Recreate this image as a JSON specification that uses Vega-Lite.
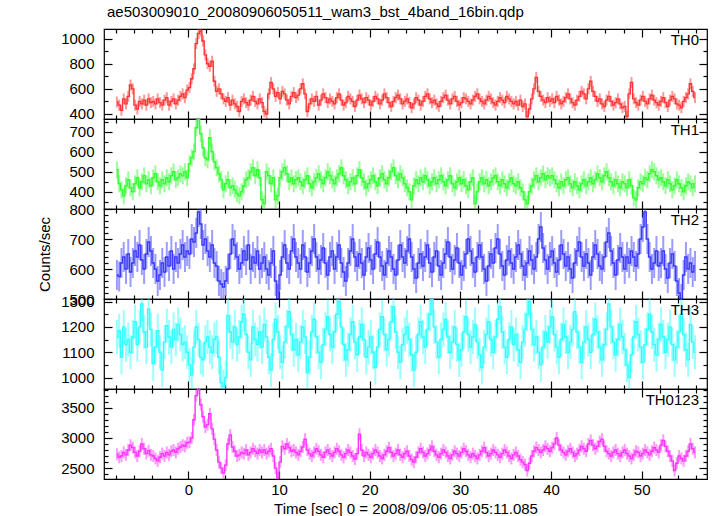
{
"$schema":"https://vega.github.io/schema/vega-lite/v6.json",
"padding":{"left":37,"top":4,"right":0,"bottom":0},
"spacing":0,
"bounds":"flush",
"title":{"text":"ae503009010_20080906050511_wam3_bst_4band_16bin.qdp","anchor":"start","frame":"group","offset":8,"dx":3},
"data":{"values":[
{"t":-7.875,"a":495,"b":510,"c":580,"d":1160,"s":2730},
{"t":-7.625,"a":470,"b":440,"c":575,"d":1185,"s":2680},
{"t":-7.375,"a":430,"b":410,"c":620,"d":1080,"s":2700},
{"t":-7.125,"a":520,"b":380,"c":640,"d":1200,"s":2760},
{"t":-6.875,"a":480,"b":430,"c":600,"d":1130,"s":2720},
{"t":-6.625,"a":540,"b":460,"c":650,"d":1150,"s":2800},
{"t":-6.375,"a":630,"b":420,"c":590,"d":1100,"s":2880},
{"t":-6.125,"a":600,"b":400,"c":620,"d":1160,"s":2840},
{"t":-5.875,"a":470,"b":440,"c":660,"d":1220,"s":2760},
{"t":-5.625,"a":440,"b":470,"c":640,"d":1130,"s":2700},
{"t":-5.375,"a":500,"b":420,"c":680,"d":1200,"s":2780},
{"t":-5.125,"a":480,"b":450,"c":630,"d":1290,"s":2900},
{"t":-4.875,"a":510,"b":480,"c":600,"d":1180,"s":2820},
{"t":-4.625,"a":470,"b":440,"c":650,"d":1120,"s":2740},
{"t":-4.375,"a":520,"b":460,"c":690,"d":1270,"s":2790},
{"t":-4.125,"a":490,"b":430,"c":660,"d":1190,"s":2720},
{"t":-3.875,"a":500,"b":470,"c":620,"d":1055,"s":2700},
{"t":-3.625,"a":480,"b":490,"c":600,"d":1120,"s":2660},
{"t":-3.375,"a":520,"b":450,"c":560,"d":1185,"s":2620},
{"t":-3.125,"a":490,"b":430,"c":580,"d":1100,"s":2680},
{"t":-2.875,"a":470,"b":460,"c":620,"d":1030,"s":2740},
{"t":-2.625,"a":510,"b":440,"c":590,"d":1140,"s":2700},
{"t":-2.375,"a":530,"b":470,"c":640,"d":1205,"s":2760},
{"t":-2.125,"a":470,"b":450,"c":610,"d":1160,"s":2720},
{"t":-1.875,"a":500,"b":480,"c":660,"d":1120,"s":2780},
{"t":-1.625,"a":520,"b":500,"c":600,"d":1190,"s":2800},
{"t":-1.375,"a":480,"b":460,"c":640,"d":1150,"s":2760},
{"t":-1.125,"a":510,"b":470,"c":620,"d":1210,"s":2820},
{"t":-0.875,"a":540,"b":490,"c":650,"d":1170,"s":2850},
{"t":-0.625,"a":560,"b":480,"c":680,"d":1130,"s":2880},
{"t":-0.375,"a":530,"b":500,"c":640,"d":1140,"s":2860},
{"t":-0.125,"a":590,"b":470,"c":660,"d":1100,"s":2920},
{"t":0.125,"a":610,"b":540,"c":650,"d":1050,"s":2930},
{"t":0.375,"a":680,"b":570,"c":700,"d":1010,"s":3000},
{"t":0.625,"a":760,"b":600,"c":690,"d":1120,"s":3300},
{"t":0.875,"a":960,"b":720,"c":720,"d":1200,"s":3700},
{"t":1.125,"a":1040,"b":760,"c":790,"d":1150,"s":3820},
{"t":1.375,"a":1060,"b":690,"c":750,"d":1080,"s":3550},
{"t":1.625,"a":980,"b":620,"c":680,"d":1070,"s":3350},
{"t":1.875,"a":870,"b":570,"c":700,"d":1140,"s":3180},
{"t":2.125,"a":800,"b":560,"c":660,"d":1160,"s":3220},
{"t":2.375,"a":780,"b":670,"c":640,"d":1120,"s":3400},
{"t":2.625,"a":820,"b":600,"c":680,"d":1100,"s":3150},
{"t":2.875,"a":660,"b":550,"c":620,"d":1150,"s":2980},
{"t":3.125,"a":580,"b":520,"c":610,"d":1160,"s":2800},
{"t":3.375,"a":600,"b":490,"c":560,"d":1080,"s":2600},
{"t":3.625,"a":560,"b":460,"c":550,"d":980,"s":2500},
{"t":3.875,"a":520,"b":410,"c":540,"d":965,"s":2420},
{"t":4.125,"a":500,"b":440,"c":560,"d":1000,"s":2550},
{"t":4.375,"a":530,"b":460,"c":600,"d":1245,"s":2900},
{"t":4.625,"a":470,"b":420,"c":650,"d":1180,"s":3050},
{"t":4.875,"a":510,"b":430,"c":700,"d":1140,"s":2850},
{"t":5.125,"a":480,"b":410,"c":680,"d":1200,"s":2780},
{"t":5.375,"a":460,"b":390,"c":640,"d":1130,"s":2700},
{"t":5.625,"a":420,"b":380,"c":600,"d":1160,"s":2720},
{"t":5.875,"a":500,"b":400,"c":620,"d":1220,"s":2760},
{"t":6.125,"a":520,"b":430,"c":660,"d":1250,"s":2740},
{"t":6.375,"a":490,"b":460,"c":630,"d":1170,"s":2800},
{"t":6.625,"a":470,"b":470,"c":680,"d":1100,"s":2720},
{"t":6.875,"a":510,"b":500,"c":600,"d":1070,"s":2760},
{"t":7.125,"a":540,"b":520,"c":640,"d":1200,"s":2820},
{"t":7.375,"a":500,"b":480,"c":620,"d":1150,"s":2780},
{"t":7.625,"a":480,"b":510,"c":660,"d":1130,"s":2740},
{"t":7.875,"a":520,"b":470,"c":600,"d":1180,"s":2800},
{"t":8.125,"a":490,"b":360,"c":620,"d":1120,"s":2760},
{"t":8.375,"a":420,"b":340,"c":640,"d":1210,"s":2800},
{"t":8.625,"a":400,"b":500,"c":600,"d":1160,"s":2740},
{"t":8.875,"a":560,"b":480,"c":580,"d":1080,"s":2780},
{"t":9.125,"a":650,"b":440,"c":620,"d":1030,"s":2820},
{"t":9.375,"a":600,"b":470,"c":660,"d":1150,"s":2700},
{"t":9.625,"a":540,"b":360,"c":560,"d":1230,"s":2500},
{"t":9.875,"a":570,"b":380,"c":500,"d":1180,"s":2340},
{"t":10.125,"a":520,"b":470,"c":580,"d":1100,"s":2600},
{"t":10.375,"a":580,"b":500,"c":640,"d":1060,"s":2860},
{"t":10.625,"a":560,"b":520,"c":680,"d":1140,"s":2820},
{"t":10.875,"a":510,"b":490,"c":620,"d":1200,"s":2900},
{"t":11.125,"a":480,"b":450,"c":600,"d":1260,"s":2840},
{"t":11.375,"a":540,"b":470,"c":660,"d":1170,"s":2780},
{"t":11.625,"a":570,"b":440,"c":700,"d":1110,"s":2800},
{"t":11.875,"a":530,"b":460,"c":640,"d":1150,"s":2760},
{"t":12.125,"a":550,"b":470,"c":620,"d":1090,"s":2720},
{"t":12.375,"a":600,"b":450,"c":600,"d":1140,"s":2780},
{"t":12.625,"a":640,"b":430,"c":680,"d":1200,"s":2850},
{"t":12.875,"a":560,"b":460,"c":640,"d":1160,"s":2980},
{"t":13.125,"a":420,"b":480,"c":590,"d":1020,"s":2800},
{"t":13.375,"a":480,"b":440,"c":620,"d":1080,"s":2740},
{"t":13.625,"a":520,"b":420,"c":660,"d":1180,"s":2700},
{"t":13.875,"a":500,"b":450,"c":700,"d":1230,"s":2760},
{"t":14.125,"a":540,"b":470,"c":640,"d":1160,"s":2820},
{"t":14.375,"a":470,"b":490,"c":600,"d":1100,"s":2780},
{"t":14.625,"a":510,"b":460,"c":630,"d":1060,"s":2720},
{"t":14.875,"a":560,"b":440,"c":670,"d":1130,"s":2680},
{"t":15.125,"a":530,"b":470,"c":620,"d":1190,"s":2760},
{"t":15.375,"a":490,"b":500,"c":580,"d":1240,"s":2800},
{"t":15.625,"a":520,"b":480,"c":640,"d":1170,"s":2740},
{"t":15.875,"a":500,"b":460,"c":660,"d":1120,"s":2700},
{"t":16.125,"a":480,"b":440,"c":600,"d":1180,"s":2760},
{"t":16.375,"a":530,"b":470,"c":640,"d":1250,"s":2820},
{"t":16.625,"a":560,"b":490,"c":680,"d":1300,"s":2780},
{"t":16.875,"a":510,"b":520,"c":620,"d":1200,"s":2720},
{"t":17.125,"a":470,"b":480,"c":590,"d":1130,"s":2680},
{"t":17.375,"a":490,"b":460,"c":560,"d":1070,"s":2740},
{"t":17.625,"a":540,"b":430,"c":620,"d":1110,"s":2800},
{"t":17.875,"a":520,"b":450,"c":660,"d":1170,"s":2760},
{"t":18.125,"a":500,"b":470,"c":700,"d":1220,"s":2700},
{"t":18.375,"a":460,"b":440,"c":640,"d":1140,"s":2650},
{"t":18.625,"a":510,"b":480,"c":610,"d":1090,"s":2740},
{"t":18.875,"a":550,"b":510,"c":650,"d":1160,"s":3060},
{"t":19.125,"a":520,"b":470,"c":620,"d":1210,"s":2800},
{"t":19.375,"a":490,"b":450,"c":580,"d":1150,"s":2700},
{"t":19.625,"a":530,"b":420,"c":640,"d":1080,"s":2760},
{"t":19.875,"a":510,"b":440,"c":670,"d":1120,"s":2720},
{"t":20.125,"a":470,"b":460,"c":630,"d":1160,"s":2680},
{"t":20.375,"a":500,"b":480,"c":600,"d":1100,"s":2740},
{"t":20.625,"a":540,"b":450,"c":650,"d":1040,"s":2800},
{"t":20.875,"a":520,"b":430,"c":690,"d":1120,"s":2760},
{"t":21.125,"a":480,"b":470,"c":640,"d":1190,"s":2700},
{"t":21.375,"a":510,"b":490,"c":610,"d":1240,"s":2660},
{"t":21.625,"a":560,"b":460,"c":580,"d":1170,"s":2720},
{"t":21.875,"a":530,"b":440,"c":620,"d":1110,"s":2780},
{"t":22.125,"a":490,"b":470,"c":660,"d":1150,"s":2840},
{"t":22.375,"a":460,"b":500,"c":640,"d":1220,"s":2760},
{"t":22.625,"a":500,"b":520,"c":600,"d":1280,"s":2700},
{"t":22.875,"a":530,"b":480,"c":580,"d":1180,"s":2740},
{"t":23.125,"a":550,"b":460,"c":630,"d":1100,"s":2800},
{"t":23.375,"a":520,"b":490,"c":680,"d":1060,"s":2720},
{"t":23.625,"a":480,"b":470,"c":640,"d":1130,"s":2680},
{"t":23.875,"a":500,"b":440,"c":620,"d":1170,"s":2740},
{"t":24.125,"a":520,"b":420,"c":660,"d":1200,"s":2780},
{"t":24.375,"a":490,"b":400,"c":700,"d":1150,"s":2700},
{"t":24.625,"a":450,"b":360,"c":640,"d":1090,"s":2640},
{"t":24.875,"a":480,"b":430,"c":600,"d":1030,"s":2600},
{"t":25.125,"a":530,"b":460,"c":570,"d":1100,"s":2680},
{"t":25.375,"a":510,"b":440,"c":620,"d":1170,"s":2760},
{"t":25.625,"a":470,"b":470,"c":650,"d":1220,"s":2820},
{"t":25.875,"a":500,"b":450,"c":610,"d":1160,"s":2760},
{"t":26.125,"a":540,"b":480,"c":640,"d":1120,"s":2700},
{"t":26.375,"a":560,"b":460,"c":680,"d":1190,"s":2740},
{"t":26.625,"a":520,"b":430,"c":620,"d":1250,"s":2800},
{"t":26.875,"a":490,"b":450,"c":590,"d":1310,"s":2860},
{"t":27.125,"a":510,"b":470,"c":640,"d":1200,"s":2780},
{"t":27.375,"a":480,"b":440,"c":660,"d":1140,"s":2720},
{"t":27.625,"a":460,"b":460,"c":610,"d":1080,"s":2680},
{"t":27.875,"a":500,"b":480,"c":580,"d":1150,"s":2740},
{"t":28.125,"a":530,"b":450,"c":620,"d":1190,"s":2800},
{"t":28.375,"a":550,"b":430,"c":650,"d":1230,"s":2760},
{"t":28.625,"a":510,"b":460,"c":690,"d":1160,"s":2700},
{"t":28.875,"a":480,"b":480,"c":640,"d":1100,"s":2660},
{"t":29.125,"a":520,"b":440,"c":600,"d":1140,"s":2720},
{"t":29.375,"a":540,"b":420,"c":630,"d":1200,"s":2780},
{"t":29.625,"a":500,"b":450,"c":670,"d":1130,"s":2740},
{"t":29.875,"a":470,"b":470,"c":620,"d":1070,"s":2700},
{"t":30.125,"a":490,"b":440,"c":580,"d":1110,"s":2760},
{"t":30.375,"a":530,"b":460,"c":610,"d":1180,"s":2820},
{"t":30.625,"a":520,"b":430,"c":650,"d":1240,"s":2780},
{"t":30.875,"a":500,"b":410,"c":700,"d":1170,"s":2720},
{"t":31.125,"a":480,"b":450,"c":660,"d":1120,"s":2680},
{"t":31.375,"a":510,"b":470,"c":620,"d":1160,"s":2740},
{"t":31.625,"a":540,"b":340,"c":590,"d":1210,"s":2700},
{"t":31.875,"a":560,"b":400,"c":640,"d":1140,"s":2660},
{"t":32.125,"a":520,"b":450,"c":680,"d":1090,"s":2720},
{"t":32.375,"a":500,"b":470,"c":640,"d":1040,"s":2780},
{"t":32.625,"a":480,"b":440,"c":600,"d":1120,"s":2840},
{"t":32.875,"a":510,"b":460,"c":560,"d":1170,"s":2760},
{"t":33.125,"a":540,"b":430,"c":610,"d":1220,"s":2700},
{"t":33.375,"a":520,"b":450,"c":650,"d":1150,"s":2740},
{"t":33.625,"a":490,"b":470,"c":620,"d":1100,"s":2800},
{"t":33.875,"a":470,"b":480,"c":670,"d":1160,"s":2760},
{"t":34.125,"a":500,"b":450,"c":700,"d":1230,"s":2720},
{"t":34.375,"a":530,"b":430,"c":650,"d":1280,"s":2680},
{"t":34.625,"a":510,"b":460,"c":610,"d":1180,"s":2740},
{"t":34.875,"a":490,"b":440,"c":580,"d":1120,"s":2800},
{"t":35.125,"a":540,"b":420,"c":630,"d":1080,"s":2760},
{"t":35.375,"a":520,"b":450,"c":660,"d":1150,"s":2700},
{"t":35.625,"a":500,"b":470,"c":620,"d":1200,"s":2660},
{"t":35.875,"a":480,"b":440,"c":600,"d":1130,"s":2720},
{"t":36.125,"a":500,"b":430,"c":640,"d":1170,"s":2760},
{"t":36.375,"a":470,"b":450,"c":680,"d":1110,"s":2700},
{"t":36.625,"a":510,"b":420,"c":650,"d":1060,"s":2640},
{"t":36.875,"a":460,"b":400,"c":610,"d":1140,"s":2600},
{"t":37.125,"a":480,"b":360,"c":580,"d":1190,"s":2560},
{"t":37.375,"a":380,"b":340,"c":620,"d":1250,"s":2460},
{"t":37.625,"a":440,"b":400,"c":660,"d":1300,"s":2580},
{"t":37.875,"a":520,"b":430,"c":630,"d":1190,"s":2700},
{"t":38.125,"a":600,"b":460,"c":600,"d":1130,"s":2780},
{"t":38.375,"a":690,"b":480,"c":640,"d":1160,"s":2840},
{"t":38.625,"a":580,"b":450,"c":700,"d":1100,"s":2800},
{"t":38.875,"a":540,"b":470,"c":740,"d":1050,"s":2760},
{"t":39.125,"a":510,"b":490,"c":670,"d":1120,"s":2800},
{"t":39.375,"a":490,"b":460,"c":630,"d":1180,"s":2860},
{"t":39.625,"a":530,"b":480,"c":600,"d":1140,"s":2820},
{"t":39.875,"a":500,"b":470,"c":640,"d":1200,"s":2780},
{"t":40.125,"a":520,"b":480,"c":660,"d":1240,"s":2840},
{"t":40.375,"a":490,"b":460,"c":620,"d":1170,"s":2900},
{"t":40.625,"a":540,"b":440,"c":590,"d":1120,"s":3000},
{"t":40.875,"a":510,"b":420,"c":630,"d":1080,"s":2880},
{"t":41.125,"a":480,"b":450,"c":680,"d":1150,"s":2800},
{"t":41.375,"a":500,"b":430,"c":650,"d":1210,"s":2760},
{"t":41.625,"a":530,"b":460,"c":610,"d":1160,"s":2720},
{"t":41.875,"a":560,"b":470,"c":640,"d":1100,"s":2780},
{"t":42.125,"a":520,"b":440,"c":600,"d":1140,"s":2820},
{"t":42.375,"a":490,"b":420,"c":570,"d":1190,"s":2760},
{"t":42.625,"a":470,"b":450,"c":620,"d":1260,"s":2700},
{"t":42.875,"a":510,"b":430,"c":660,"d":1180,"s":2740},
{"t":43.125,"a":540,"b":410,"c":690,"d":1120,"s":2800},
{"t":43.375,"a":580,"b":440,"c":640,"d":1060,"s":2860},
{"t":43.625,"a":560,"b":460,"c":610,"d":1140,"s":2820},
{"t":43.875,"a":520,"b":430,"c":650,"d":1200,"s":2780},
{"t":44.125,"a":600,"b":450,"c":620,"d":1150,"s":2900},
{"t":44.375,"a":660,"b":470,"c":580,"d":1100,"s":2960},
{"t":44.625,"a":580,"b":440,"c":640,"d":1170,"s":2880},
{"t":44.875,"a":540,"b":460,"c":680,"d":1230,"s":2820},
{"t":45.125,"a":500,"b":490,"c":650,"d":1180,"s":2860},
{"t":45.375,"a":520,"b":470,"c":610,"d":1120,"s":2940},
{"t":45.625,"a":480,"b":450,"c":600,"d":1070,"s":2980},
{"t":45.875,"a":460,"b":480,"c":640,"d":1130,"s":2860},
{"t":46.125,"a":510,"b":500,"c":690,"d":1190,"s":2780},
{"t":46.375,"a":540,"b":470,"c":720,"d":1290,"s":2740},
{"t":46.625,"a":500,"b":450,"c":660,"d":1200,"s":2700},
{"t":46.875,"a":470,"b":430,"c":620,"d":1140,"s":2760},
{"t":47.125,"a":490,"b":460,"c":580,"d":1090,"s":2800},
{"t":47.375,"a":520,"b":440,"c":630,"d":1150,"s":2740},
{"t":47.625,"a":480,"b":420,"c":670,"d":1210,"s":2700},
{"t":47.875,"a":450,"b":450,"c":640,"d":1160,"s":2760},
{"t":48.125,"a":460,"b":440,"c":600,"d":1110,"s":2800},
{"t":48.375,"a":380,"b":420,"c":640,"d":1050,"s":2740},
{"t":48.625,"a":560,"b":460,"c":620,"d":1000,"s":2700},
{"t":48.875,"a":650,"b":430,"c":660,"d":1090,"s":2660},
{"t":49.125,"a":520,"b":370,"c":640,"d":1160,"s":2720},
{"t":49.375,"a":490,"b":360,"c":610,"d":1220,"s":2780},
{"t":49.625,"a":470,"b":420,"c":650,"d":1170,"s":2760},
{"t":49.875,"a":510,"b":450,"c":700,"d":1120,"s":2700},
{"t":50.125,"a":540,"b":440,"c":740,"d":1060,"s":2740},
{"t":50.375,"a":500,"b":470,"c":790,"d":1130,"s":2800},
{"t":50.625,"a":480,"b":460,"c":700,"d":1190,"s":2760},
{"t":50.875,"a":520,"b":490,"c":640,"d":1250,"s":2720},
{"t":51.125,"a":550,"b":510,"c":600,"d":1180,"s":2780},
{"t":51.375,"a":510,"b":500,"c":620,"d":1130,"s":2840},
{"t":51.625,"a":490,"b":480,"c":660,"d":1090,"s":2800},
{"t":51.875,"a":470,"b":460,"c":610,"d":1150,"s":2760},
{"t":52.125,"a":500,"b":470,"c":620,"d":1210,"s":2880},
{"t":52.375,"a":530,"b":450,"c":660,"d":1160,"s":2960},
{"t":52.625,"a":490,"b":430,"c":600,"d":1100,"s":2860},
{"t":52.875,"a":460,"b":460,"c":570,"d":1150,"s":2780},
{"t":53.125,"a":510,"b":440,"c":620,"d":1200,"s":2700},
{"t":53.375,"a":540,"b":410,"c":650,"d":1130,"s":2620},
{"t":53.625,"a":520,"b":430,"c":610,"d":1070,"s":2460},
{"t":53.875,"a":480,"b":460,"c":560,"d":1120,"s":2580},
{"t":54.125,"a":470,"b":440,"c":520,"d":1180,"s":2700},
{"t":54.375,"a":450,"b":420,"c":500,"d":1250,"s":2660},
{"t":54.625,"a":500,"b":400,"c":580,"d":1170,"s":2620},
{"t":54.875,"a":530,"b":430,"c":640,"d":1110,"s":2700},
{"t":55.125,"a":560,"b":450,"c":600,"d":1070,"s":2780},
{"t":55.375,"a":640,"b":440,"c":620,"d":1210,"s":2900},
{"t":55.625,"a":580,"b":420,"c":590,"d":1140,"s":2820},
{"t":55.875,"a":530,"b":440,"c":610,"d":1100,"s":2760}
]},
"vconcat":[
{"width":603,"height":90,
 "layer":[
  {"mark":{"type":"tick","orient":"vertical","size":11,"thickness":2,"color":"#ff3333","opacity":0.5,"clip":true},
   "encoding":{
    "x":{"field":"t","type":"quantitative","scale":{"domain":[-9.3,57.2],"nice":false,"zero":false},"axis":{"orient":"bottom","values":[0,10,20,30,40,50],"tickSize":-8,"labels":false,"title":null}},
    "y":{"field":"a","type":"quantitative","scale":{"domain":[360,1076],"nice":false,"zero":false},"axis":{"orient":"left","values":[400,600,800,1000],"format":"d","tickSize":-8,"labelPadding":18,"title":null}}}},
  {"mark":{"type":"line","interpolate":"step","color":"#ff3333","strokeWidth":1.4,"clip":true},
   "encoding":{
    "x":{"field":"t","type":"quantitative","axis":{"orient":"top","values":[0,10,20,30,40,50],"tickSize":-8,"labels":false,"title":null}},
    "y":{"field":"a","type":"quantitative","axis":{"orient":"right","values":[400,600,800,1000],"tickSize":-8,"labels":false,"title":null}}}},
  {"data":{"values":[{"label":"TH0"}]},
   "mark":{"type":"text","align":"right","baseline":"top","dx":-8,"dy":4,"fontSize":15,"color":"#000"},
   "encoding":{
    "x":{"datum":57.2,"type":"quantitative","axis":{"orient":"bottom","values":[-8,-6,-4,-2,2,4,6,8,12,14,16,18,22,24,26,28,32,34,36,38,42,44,46,48,52,54,56],"tickSize":-4,"labels":false,"title":null}},
    "y":{"datum":1076,"type":"quantitative","axis":{"orient":"left","values":[500,700,900],"tickSize":-4,"labels":false,"title":null}},
    "text":{"field":"label"}}},
  {"mark":{"type":"point","opacity":0},
   "encoding":{
    "x":{"field":"t","type":"quantitative","axis":{"orient":"top","values":[-8,-6,-4,-2,2,4,6,8,12,14,16,18,22,24,26,28,32,34,36,38,42,44,46,48,52,54,56],"tickSize":-4,"labels":false,"title":null}},
    "y":{"field":"a","type":"quantitative","axis":{"orient":"right","values":[500,700,900],"tickSize":-4,"labels":false,"title":null}}}}
 ],
 "resolve":{"axis":{"x":"independent","y":"independent"}}
},
{"width":603,"height":90,
 "layer":[
  {"mark":{"type":"tick","orient":"vertical","size":17,"thickness":2,"color":"#33ff33","opacity":0.5,"clip":true},
   "encoding":{
    "x":{"field":"t","type":"quantitative","scale":{"domain":[-9.3,57.2],"nice":false,"zero":false},"axis":{"orient":"bottom","values":[0,10,20,30,40,50],"tickSize":-8,"labels":false,"title":null}},
    "y":{"field":"b","type":"quantitative","scale":{"domain":[314,764],"nice":false,"zero":false},"axis":{"orient":"left","values":[400,500,600,700],"format":"d","tickSize":-8,"labelPadding":18,"title":null}}}},
  {"mark":{"type":"line","interpolate":"step","color":"#33ff33","strokeWidth":1.4,"clip":true},
   "encoding":{
    "x":{"field":"t","type":"quantitative","axis":{"orient":"top","values":[0,10,20,30,40,50],"tickSize":-8,"labels":false,"title":null}},
    "y":{"field":"b","type":"quantitative","axis":{"orient":"right","values":[400,500,600,700],"tickSize":-8,"labels":false,"title":null}}}},
  {"data":{"values":[{"label":"TH1"}]},
   "mark":{"type":"text","align":"right","baseline":"top","dx":-8,"dy":4,"fontSize":15,"color":"#000"},
   "encoding":{
    "x":{"datum":57.2,"type":"quantitative","axis":{"orient":"bottom","values":[-8,-6,-4,-2,2,4,6,8,12,14,16,18,22,24,26,28,32,34,36,38,42,44,46,48,52,54,56],"tickSize":-4,"labels":false,"title":null}},
    "y":{"datum":764,"type":"quantitative","axis":{"orient":"left","values":[350,450,550,650,750],"tickSize":-4,"labels":false,"title":null}},
    "text":{"field":"label"}}},
  {"mark":{"type":"point","opacity":0},
   "encoding":{
    "x":{"field":"t","type":"quantitative","axis":{"orient":"top","values":[-8,-6,-4,-2,2,4,6,8,12,14,16,18,22,24,26,28,32,34,36,38,42,44,46,48,52,54,56],"tickSize":-4,"labels":false,"title":null}},
    "y":{"field":"b","type":"quantitative","axis":{"orient":"right","values":[350,450,550,650,750],"tickSize":-4,"labels":false,"title":null}}}}
 ],
 "resolve":{"axis":{"x":"independent","y":"independent"}}
},
{"width":603,"height":90,
 "layer":[
  {"mark":{"type":"tick","orient":"vertical","size":30,"thickness":2,"color":"#3a3aff","opacity":0.5,"clip":true},
   "encoding":{
    "x":{"field":"t","type":"quantitative","scale":{"domain":[-9.3,57.2],"nice":false,"zero":false},"axis":{"orient":"bottom","values":[0,10,20,30,40,50],"tickSize":-8,"labels":false,"title":null}},
    "y":{"field":"c","type":"quantitative","scale":{"domain":[500,800],"nice":false,"zero":false},"axis":{"orient":"left","values":[500,600,700,800],"format":"d","tickSize":-8,"labelPadding":18,"title":"Counts/sec","titlePadding":16}}}},
  {"mark":{"type":"line","interpolate":"step","color":"#3a3aff","strokeWidth":1.4,"clip":true},
   "encoding":{
    "x":{"field":"t","type":"quantitative","axis":{"orient":"top","values":[0,10,20,30,40,50],"tickSize":-8,"labels":false,"title":null}},
    "y":{"field":"c","type":"quantitative","axis":{"orient":"right","values":[500,600,700,800],"tickSize":-8,"labels":false,"title":null}}}},
  {"data":{"values":[{"label":"TH2"}]},
   "mark":{"type":"text","align":"right","baseline":"top","dx":-8,"dy":4,"fontSize":15,"color":"#000"},
   "encoding":{
    "x":{"datum":57.2,"type":"quantitative","axis":{"orient":"bottom","values":[-8,-6,-4,-2,2,4,6,8,12,14,16,18,22,24,26,28,32,34,36,38,42,44,46,48,52,54,56],"tickSize":-4,"labels":false,"title":null}},
    "y":{"datum":800,"type":"quantitative","axis":{"orient":"left","values":[520,540,560,580,620,640,660,680,720,740,760,780],"tickSize":-4,"labels":false,"title":null}},
    "text":{"field":"label"}}},
  {"mark":{"type":"point","opacity":0},
   "encoding":{
    "x":{"field":"t","type":"quantitative","axis":{"orient":"top","values":[-8,-6,-4,-2,2,4,6,8,12,14,16,18,22,24,26,28,32,34,36,38,42,44,46,48,52,54,56],"tickSize":-4,"labels":false,"title":null}},
    "y":{"field":"c","type":"quantitative","axis":{"orient":"right","values":[520,540,560,580,620,640,660,680,720,740,760,780],"tickSize":-4,"labels":false,"title":null}}}}
 ],
 "resolve":{"axis":{"x":"independent","y":"independent"}}
},
{"width":603,"height":90,
 "layer":[
  {"mark":{"type":"tick","orient":"vertical","size":34,"thickness":2,"color":"#33ffff","opacity":0.5,"clip":true},
   "encoding":{
    "x":{"field":"t","type":"quantitative","scale":{"domain":[-9.3,57.2],"nice":false,"zero":false},"axis":{"orient":"bottom","values":[0,10,20,30,40,50],"tickSize":-8,"labels":false,"title":null}},
    "y":{"field":"d","type":"quantitative","scale":{"domain":[955,1310],"nice":false,"zero":false},"axis":{"orient":"left","values":[1000,1100,1200,1300],"format":"d","tickSize":-8,"labelPadding":18,"title":null}}}},
  {"mark":{"type":"line","interpolate":"step","color":"#33ffff","strokeWidth":1.4,"clip":true},
   "encoding":{
    "x":{"field":"t","type":"quantitative","axis":{"orient":"top","values":[0,10,20,30,40,50],"tickSize":-8,"labels":false,"title":null}},
    "y":{"field":"d","type":"quantitative","axis":{"orient":"right","values":[1000,1100,1200,1300],"tickSize":-8,"labels":false,"title":null}}}},
  {"data":{"values":[{"label":"TH3"}]},
   "mark":{"type":"text","align":"right","baseline":"top","dx":-8,"dy":4,"fontSize":15,"color":"#000"},
   "encoding":{
    "x":{"datum":57.2,"type":"quantitative","axis":{"orient":"bottom","values":[-8,-6,-4,-2,2,4,6,8,12,14,16,18,22,24,26,28,32,34,36,38,42,44,46,48,52,54,56],"tickSize":-4,"labels":false,"title":null}},
    "y":{"datum":1310,"type":"quantitative","axis":{"orient":"left","values":[1050,1150,1250],"tickSize":-4,"labels":false,"title":null}},
    "text":{"field":"label"}}},
  {"mark":{"type":"point","opacity":0},
   "encoding":{
    "x":{"field":"t","type":"quantitative","axis":{"orient":"top","values":[-8,-6,-4,-2,2,4,6,8,12,14,16,18,22,24,26,28,32,34,36,38,42,44,46,48,52,54,56],"tickSize":-4,"labels":false,"title":null}},
    "y":{"field":"d","type":"quantitative","axis":{"orient":"right","values":[1050,1150,1250],"tickSize":-4,"labels":false,"title":null}}}}
 ],
 "resolve":{"axis":{"x":"independent","y":"independent"}}
},
{"width":603,"height":90,
 "layer":[
  {"mark":{"type":"tick","orient":"vertical","size":12,"thickness":2,"color":"#ff33ff","opacity":0.5,"clip":true},
   "encoding":{
    "x":{"field":"t","type":"quantitative","scale":{"domain":[-9.3,57.2],"nice":false,"zero":false},"axis":{"orient":"bottom","values":[0,10,20,30,40,50],"format":"d","tickSize":-8,"labels":true,"labelPadding":11,"title":"Time [sec] 0 = 2008/09/06 05:05:11.085","titlePadding":4}},
    "y":{"field":"s","type":"quantitative","scale":{"domain":[2320,3810],"nice":false,"zero":false},"axis":{"orient":"left","values":[2500,3000,3500],"format":"d","tickSize":-8,"labelPadding":18,"title":null}}}},
  {"mark":{"type":"line","interpolate":"step","color":"#ff33ff","strokeWidth":1.4,"clip":true},
   "encoding":{
    "x":{"field":"t","type":"quantitative","axis":{"orient":"top","values":[0,10,20,30,40,50],"tickSize":-8,"labels":false,"title":null}},
    "y":{"field":"s","type":"quantitative","axis":{"orient":"right","values":[2500,3000,3500],"tickSize":-8,"labels":false,"title":null}}}},
  {"data":{"values":[{"label":"TH0123"}]},
   "mark":{"type":"text","align":"right","baseline":"top","dx":-8,"dy":4,"fontSize":15,"color":"#000"},
   "encoding":{
    "x":{"datum":57.2,"type":"quantitative","axis":{"orient":"bottom","values":[-8,-6,-4,-2,2,4,6,8,12,14,16,18,22,24,26,28,32,34,36,38,42,44,46,48,52,54,56],"tickSize":-4,"labels":false,"title":null}},
    "y":{"datum":3810,"type":"quantitative","axis":{"orient":"left","values":[2400,2600,2700,2800,2900,3100,3200,3300,3400,3600,3700,3800],"tickSize":-4,"labels":false,"title":null}},
    "text":{"field":"label"}}},
  {"mark":{"type":"point","opacity":0},
   "encoding":{
    "x":{"field":"t","type":"quantitative","axis":{"orient":"top","values":[-8,-6,-4,-2,2,4,6,8,12,14,16,18,22,24,26,28,32,34,36,38,42,44,46,48,52,54,56],"tickSize":-4,"labels":false,"title":null}},
    "y":{"field":"s","type":"quantitative","axis":{"orient":"right","values":[2400,2600,2700,2800,2900,3100,3200,3300,3400,3600,3700,3800],"tickSize":-4,"labels":false,"title":null}}}}
 ],
 "resolve":{"axis":{"x":"independent","y":"independent"}}
}
],
"config":{
 "font":"Liberation Sans",
 "view":{"stroke":"#000","strokeWidth":1.2},
 "axis":{"domain":false,"grid":false,"tickColor":"#000","tickWidth":1.2,"labelFont":"Liberation Sans","labelFontSize":15,"labelColor":"#000","titleFont":"Liberation Sans","titleFontSize":15,"titleFontWeight":"normal","titleColor":"#000","labelOverlap":false,"labelBound":false,"labelFlush":false},
 "title":{"font":"Liberation Sans","fontSize":15,"fontWeight":"normal","color":"#000"}
}
}
